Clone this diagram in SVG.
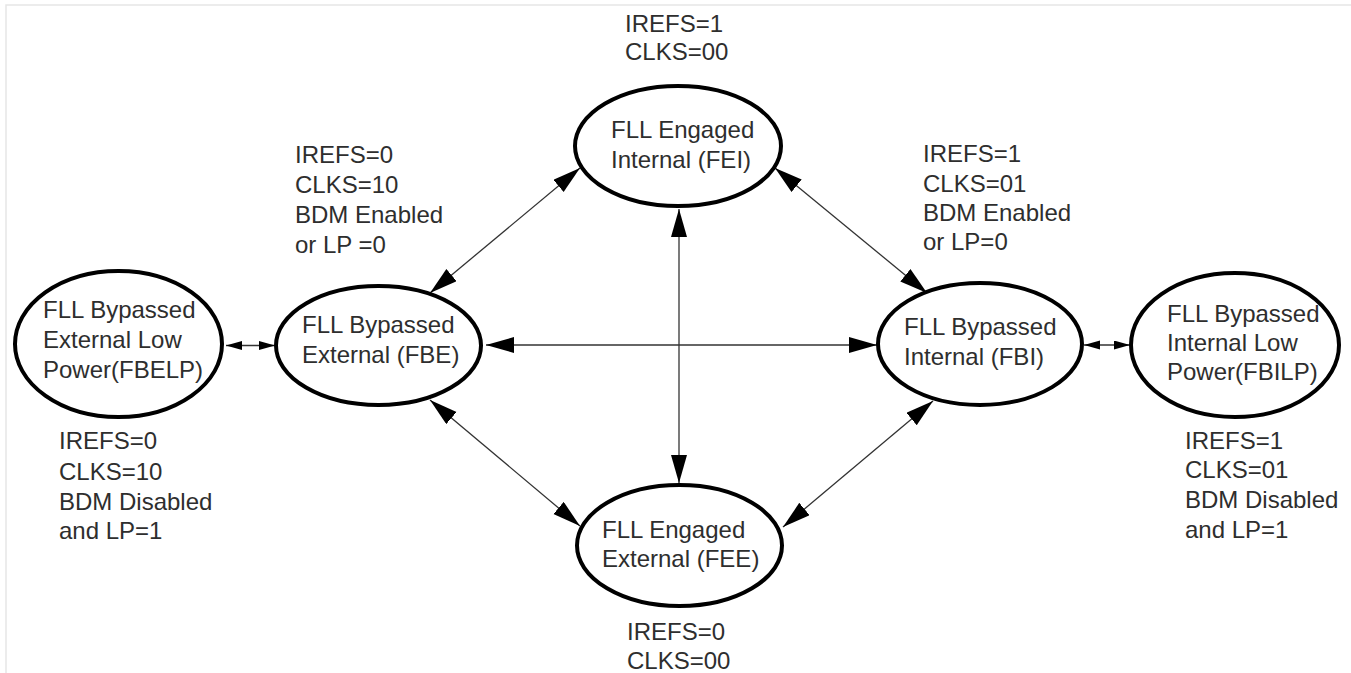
<svg xmlns="http://www.w3.org/2000/svg" width="1351" height="673" viewBox="0 0 1351 673">
<style>
  text { font-family: "Liberation Sans", Arial, sans-serif; font-size: 24px; fill: #2e2e2e; }
  .node { fill: #ffffff; stroke: #000000; stroke-width: 4; }
  .conn { fill: none; stroke: #333333; stroke-width: 1.3; }
  .big { marker-start: url(#ah); marker-end: url(#ah); }
  .small { marker-start: url(#ahs); marker-end: url(#ahs); }
</style>
<defs>
  <marker id="ah" markerUnits="userSpaceOnUse" markerWidth="30" markerHeight="18" refX="28" refY="8" orient="auto-start-reverse">
    <path d="M0,0 L28,8 L0,16 Z" fill="#000000"/>
  </marker>
  <marker id="ahs" markerUnits="userSpaceOnUse" markerWidth="18" markerHeight="10" refX="16" refY="4.5" orient="auto-start-reverse">
    <path d="M0,0 L16,4.5 L0,9 Z" fill="#000000"/>
  </marker>
</defs>
<rect x="0" y="0" width="1351" height="673" fill="#ffffff"/>
<path d="M6,673 L6,5 L1351,5" fill="none" stroke="#e6e6e6" stroke-width="1.5"/>

<g id="connectors">
  <line class="conn big" x1="679" y1="209" x2="679" y2="483" stroke-width="1.6"/>
  <line class="conn big" x1="486" y1="345" x2="877" y2="345" stroke-width="2"/>
  <line class="conn big" x1="430" y1="293" x2="580" y2="168"/>
  <line class="conn big" x1="775" y1="168" x2="927" y2="293"/>
  <line class="conn big" x1="430" y1="400" x2="580" y2="526"/>
  <line class="conn big" x1="933" y1="401" x2="783" y2="527"/>
  <line class="conn small" x1="226" y1="345.5" x2="275" y2="345.5" stroke-width="2"/>
  <line class="conn small" x1="1084" y1="345" x2="1130" y2="345" stroke-width="2"/>
</g>

<g id="FEI">
  <ellipse class="node" cx="678" cy="146" rx="103" ry="60"/>
  <text x="611" y="138">FLL Engaged</text>
  <text x="611" y="168">Internal (FEI)</text>
</g>
<g id="FEE">
  <ellipse class="node" cx="679.5" cy="545.5" rx="102.5" ry="60.5"/>
  <text x="602" y="538">FLL Engaged</text>
  <text x="602" y="567">External (FEE)</text>
</g>
<g id="FBE">
  <ellipse class="node" cx="378.5" cy="345.5" rx="102.5" ry="59.5"/>
  <text x="302" y="333">FLL Bypassed</text>
  <text x="302" y="363">External (FBE)</text>
</g>
<g id="FBI">
  <ellipse class="node" cx="980" cy="344" rx="102" ry="61"/>
  <text x="904" y="335">FLL Bypassed</text>
  <text x="904" y="365">Internal (FBI)</text>
</g>
<g id="FBELP">
  <ellipse class="node" cx="118.5" cy="344" rx="103.5" ry="73"/>
  <text x="43" y="318">FLL Bypassed</text>
  <text x="43" y="348">External Low</text>
  <text x="43" y="378">Power(FBELP)</text>
</g>
<g id="FBILP">
  <ellipse class="node" cx="1235" cy="345" rx="104" ry="72"/>
  <text x="1167" y="322">FLL Bypassed</text>
  <text x="1167" y="351">Internal Low</text>
  <text x="1167" y="380">Power(FBILP)</text>
</g>

<g id="labels">
  <text x="625" y="32">IREFS=1</text>
  <text x="625" y="60">CLKS=00</text>
  <text x="627" y="640">IREFS=0</text>
  <text x="627" y="669">CLKS=00</text>
  <text x="295" y="163">IREFS=0</text>
  <text x="295" y="193">CLKS=10</text>
  <text x="295" y="223">BDM Enabled</text>
  <text x="295" y="253">or LP =0</text>
  <text x="923" y="162">IREFS=1</text>
  <text x="923" y="192">CLKS=01</text>
  <text x="923" y="221">BDM Enabled</text>
  <text x="923" y="250">or LP=0</text>
  <text x="59" y="449">IREFS=0</text>
  <text x="59" y="480">CLKS=10</text>
  <text x="59" y="510">BDM Disabled</text>
  <text x="59" y="539">and LP=1</text>
  <text x="1185" y="449">IREFS=1</text>
  <text x="1185" y="478">CLKS=01</text>
  <text x="1185" y="508">BDM Disabled</text>
  <text x="1185" y="538">and LP=1</text>
</g>
</svg>
